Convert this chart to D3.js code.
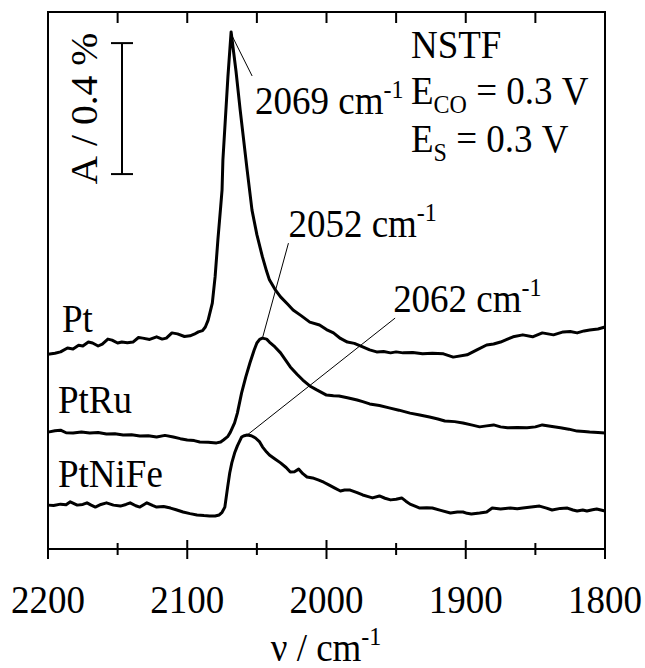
<!DOCTYPE html>
<html>
<head>
<meta charset="utf-8">
<script src="https://cdn.jsdelivr.net/npm/d3@7"></script>
<style>
	body { margin: 0; background: #fff; }
	svg { display: block; }
</style>
</head>
<body>
<svg></svg>
<script>
// data (wavenumber / cm-1, absorbance % incl. stacking offset)...............

var pt = [
	[2200, 0.595], [2195, 0.598], [2191, 0.602], [2186, 0.614], [2182, 0.611],
	[2178, 0.622], [2175, 0.620], [2171, 0.632], [2168, 0.629], [2164, 0.620],
	[2161, 0.626], [2157, 0.641], [2154, 0.638], [2150, 0.629], [2147, 0.632],
	[2143, 0.630], [2139, 0.632], [2135, 0.646], [2132, 0.644], [2127, 0.640],
	[2122, 0.648], [2118, 0.641], [2115, 0.644], [2111, 0.660], [2107, 0.657],
	[2102, 0.649], [2098, 0.651], [2095, 0.656], [2092, 0.663], [2089, 0.667],
	[2087, 0.678], [2085, 0.699], [2082, 0.751], [2080, 0.831], [2078, 0.944],
	[2076, 1.045], [2075, 1.097], [2074.4, 1.188], [2070.8, 1.442], [2068.5, 1.579],
	[2065, 1.460], [2062, 1.341], [2057, 1.158], [2053.5, 1.035], [2050, 0.960],
	[2046, 0.892], [2043, 0.848], [2041, 0.822], [2037, 0.793], [2033, 0.770],
	[2028, 0.748], [2024, 0.730], [2018, 0.712], [2012, 0.693], [2005, 0.684],
	[2000, 0.670], [1995, 0.660], [1990, 0.643], [1985, 0.632], [1980, 0.628],
	[1974, 0.617], [1969, 0.608], [1964, 0.602], [1959, 0.603], [1954, 0.599],
	[1950, 0.602], [1945, 0.599], [1938, 0.600], [1931, 0.596], [1924, 0.598],
	[1916, 0.596], [1909, 0.586], [1899, 0.593], [1892, 0.608], [1885, 0.623],
	[1880, 0.626], [1875, 0.632], [1870, 0.641], [1866, 0.648], [1859, 0.654],
	[1852, 0.648], [1845, 0.660], [1841, 0.657], [1837, 0.654], [1830, 0.663],
	[1825, 0.664], [1820, 0.660], [1815, 0.666], [1811, 0.669], [1805, 0.672],
	[1800, 0.678]
];

var ptRu = [
	[2200, 0.357], [2195, 0.361], [2191, 0.363], [2187, 0.355], [2182, 0.354],
	[2176, 0.357], [2170, 0.354], [2164, 0.356], [2158, 0.351], [2152, 0.352],
	[2146, 0.348], [2140, 0.349], [2134, 0.345], [2128, 0.346], [2122, 0.342],
	[2116, 0.347], [2110, 0.342], [2105, 0.337], [2100, 0.333], [2095, 0.331],
	[2091, 0.327], [2085, 0.326], [2079, 0.324], [2076, 0.327], [2074, 0.333],
	[2071, 0.343], [2069, 0.357], [2066, 0.385], [2064, 0.415], [2061, 0.476],
	[2058, 0.525], [2055, 0.568], [2052, 0.607], [2050, 0.629], [2048, 0.640],
	[2046, 0.644], [2043, 0.641], [2041, 0.632], [2037, 0.617], [2033, 0.599],
	[2030, 0.581], [2026, 0.556], [2021, 0.533], [2017, 0.516], [2012, 0.498],
	[2007, 0.486], [2003, 0.477], [2000, 0.470], [1995, 0.468], [1991, 0.467],
	[1985, 0.462], [1978, 0.455], [1974, 0.450], [1969, 0.443], [1962, 0.438],
	[1955, 0.431], [1948, 0.424], [1940, 0.415], [1933, 0.409], [1926, 0.403],
	[1920, 0.397], [1915, 0.391], [1908, 0.389], [1902, 0.385], [1896, 0.379],
	[1890, 0.373], [1885, 0.376], [1880, 0.379], [1875, 0.373], [1870, 0.370],
	[1863, 0.371], [1856, 0.370], [1850, 0.373], [1845, 0.379], [1838, 0.374],
	[1832, 0.370], [1826, 0.366], [1820, 0.360], [1815, 0.359], [1811, 0.357],
	[1805, 0.356], [1800, 0.354]
];

var ptNiFe = [
	[2200, 0.134], [2196, 0.133], [2191, 0.137], [2187, 0.135], [2184, 0.144],
	[2179, 0.134], [2175, 0.136], [2172, 0.141], [2169, 0.134], [2166, 0.128],
	[2162, 0.136], [2158, 0.141], [2153, 0.134], [2148, 0.131], [2144, 0.136],
	[2141, 0.141], [2137, 0.132], [2134, 0.128], [2131, 0.136], [2129, 0.141],
	[2125, 0.133], [2122, 0.128], [2117, 0.130], [2112, 0.125], [2108, 0.120],
	[2103, 0.113], [2098, 0.108], [2093, 0.104], [2088, 0.102], [2084, 0.101],
	[2080, 0.101], [2077, 0.104], [2075, 0.112], [2073, 0.128], [2071, 0.189],
	[2069.5, 0.232], [2068, 0.263], [2066, 0.293], [2064, 0.315], [2061, 0.342],
	[2059, 0.346], [2057, 0.348], [2054, 0.346], [2051, 0.339], [2048, 0.327],
	[2046, 0.312], [2043, 0.296], [2041, 0.287], [2037, 0.275], [2033, 0.263],
	[2029, 0.249], [2026, 0.235], [2023, 0.236], [2020, 0.244], [2017, 0.230],
	[2014, 0.220], [2010, 0.217], [2006, 0.211], [2002, 0.204], [1998, 0.195],
	[1994, 0.186], [1990, 0.177], [1987, 0.180], [1983, 0.180], [1978, 0.172],
	[1974, 0.165], [1970, 0.160], [1967, 0.156], [1962, 0.162], [1958, 0.155],
	[1954, 0.150], [1950, 0.152], [1946, 0.156], [1943, 0.146], [1940, 0.137],
	[1936, 0.130], [1933, 0.125], [1928, 0.126], [1924, 0.125], [1918, 0.118],
	[1911, 0.110], [1906, 0.113], [1902, 0.113], [1899, 0.109], [1896, 0.107],
	[1890, 0.110], [1885, 0.113], [1881, 0.125], [1875, 0.122], [1868, 0.125],
	[1863, 0.123], [1859, 0.125], [1853, 0.128], [1847, 0.131], [1842, 0.125],
	[1838, 0.119], [1832, 0.124], [1827, 0.125], [1823, 0.119], [1820, 0.116],
	[1816, 0.119], [1813, 0.116], [1809, 0.120], [1806, 0.122], [1800, 0.116]
];

var seriesNames = ["Pt", "PtRu", "PtNiFe"],
	peakLabels = ["2069", "2052", "2062"],
	majorTicks = [2200, 2100, 2000, 1900, 1800],
	minorTicks = [2150, 2050, 1950, 1850],
	topTicks = [2150, 2100, 2050, 2000, 1950, 1900, 1850],
	scaleBar = [1.545, 1.145];	// 0.4 % absorbance

// layout......................................................................

var width = 645, height = 668, fs = 37, stretch = 1.07,
	svg = d3.select("svg").attr("width", width).attr("height", height),
	x = d3.scaleLinear().domain([2200, 1800]).range([48, 605]),
	y = d3.scaleLinear().domain([0, 1.64]).range([549, 12]),
	line = d3.line()
		.x(function(d) { return x(d[0]); })
		.y(function(d) { return y(d[1]); });

// text helper: parts are [string, "sup" | "sub" | null]
function addText(tx, ty, parts, anchor, rot) {
	var g = svg.append("g")
		.attr("transform", "translate(" + tx + "," + ty + ")" +
			(rot ? " rotate(-90) scale(" + stretch + ",1)" : " scale(1," + stretch + ")"));
	var t = g.append("text")
		.attr("text-anchor", anchor || "start")
		.style("font-family", "'Liberation Serif'")
		.style("font-size", fs + "px");
	var shift = 0;
	parts.forEach(function(p) {
		var target = p[1] == "sup" ? -15 : p[1] == "sub" ? 8 : 0;
		t.append("tspan")
			.attr("dy", target - shift)
			.style("font-size", (p[1] ? 24 : fs) + "px")
			.text(p[0].replace(/ /g, "\u00a0"));
		shift = target;
	});
	return t;
}

// frame and ticks.............................................................

svg.append("rect")
	.attr("x", x(2200)).attr("y", y(1.64))
	.attr("width", x(1800) - x(2200)).attr("height", y(0) - y(1.64))
	.attr("fill", "none").attr("stroke", "#000").attr("stroke-width", 2);

svg.append("g").selectAll("line")
	.data(majorTicks).enter().append("line")
		.attr("x1", x).attr("x2", x)
		.attr("y1", y(0) - 9).attr("y2", y(0) + 10)
		.attr("stroke", "#000").attr("stroke-width", 2);

svg.append("g").selectAll("line")
	.data(minorTicks).enter().append("line")
		.attr("x1", x).attr("x2", x)
		.attr("y1", y(0) - 6).attr("y2", y(0) + 6)
		.attr("stroke", "#000").attr("stroke-width", 2);

svg.append("g").selectAll("line")
	.data(topTicks).enter().append("line")
		.attr("x1", x).attr("x2", x)
		.attr("y1", y(1.64)).attr("y2", y(1.64) + 11)
		.attr("stroke", "#000").attr("stroke-width", 2);

majorTicks.forEach(function(v) {
	addText(x(v), 613, [[String(v)]], "middle");
});

addText(326, 661, [["\u03bd / cm"], ["-1", "sup"]], "middle");

// scale bar...................................................................

var sb = svg.append("g").attr("stroke", "#000").attr("stroke-width", 2);
sb.append("line").attr("x1", 122).attr("x2", 122)
	.attr("y1", y(scaleBar[0])).attr("y2", y(scaleBar[1]));
scaleBar.forEach(function(v) {
	sb.append("line").attr("x1", 111).attr("x2", 133)
		.attr("y1", y(v)).attr("y2", y(v));
});
addText(97, (y(scaleBar[0]) + y(scaleBar[1])) / 2, [["A / 0.4 %"]], "middle", true);

// spectra.....................................................................

svg.append("g").selectAll("path")
	.data([pt, ptRu, ptNiFe]).enter().append("path")
		.attr("d", line)
		.attr("fill", "none")
		.attr("stroke", "#000")
		.attr("stroke-width", 3)
		.attr("stroke-linejoin", "round");

var nameSpots = [[62, 332], [58, 413], [58, 487]];
seriesNames.forEach(function(n, i) {
	addText(nameSpots[i][0], nameSpots[i][1], [[n]]);
});

// peak annotations: leader end offset and label offset from the peak point
var leaders = [[21, 44, 24, 82], [26, -95, 26, -101], [148, -117, 146, -123]];
[pt, ptRu, ptNiFe].forEach(function(s, i) {
	var pk = s.reduce(function(a, b) { return b[1] > a[1] ? b : a; }),
		px = x(pk[0]), py = y(pk[1]), o = leaders[i];
	svg.append("line")
		.attr("x1", px + (i ? 0 : 1)).attr("y1", py + (i ? 0 : 4))
		.attr("x2", px + o[0]).attr("y2", py + o[1])
		.attr("stroke", "#000").attr("stroke-width", 1);
	addText(px + o[2], py + o[3], [[peakLabels[i] + " cm"], ["-1", "sup"]]);
});

// conditions
addText(411, 58, [["NSTF"]]);
addText(411, 104, [["E"], ["CO", "sub"], [" = 0.3 V"]]);
addText(411, 152, [["E"], ["S", "sub"], [" = 0.3 V"]]);
</script>
</body>
</html>
